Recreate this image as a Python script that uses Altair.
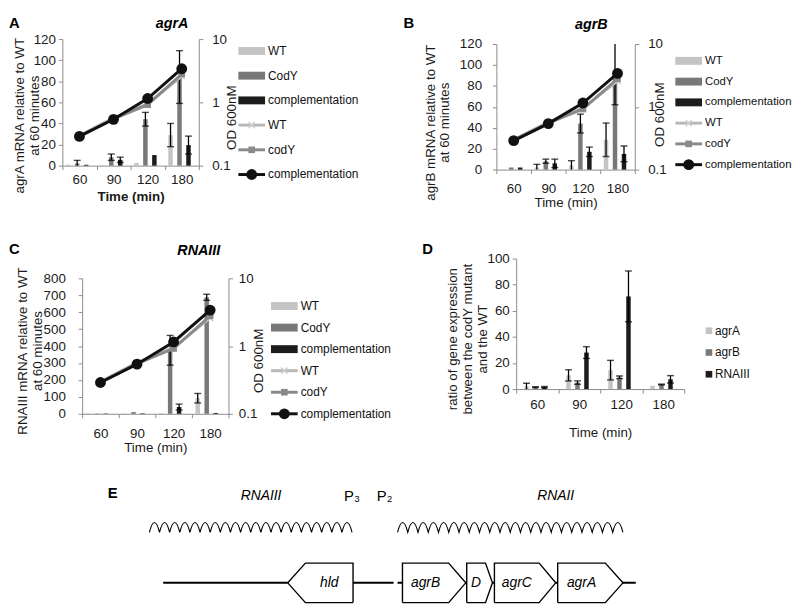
import altair as alt
import pandas as pd

FONT = "Liberation Sans"

# ---------------- data ----------------
times = ["60", "90", "120", "180"]
strains = ["WT", "CodY", "complementation"]
od_names = ["WT", "codY", "complementation"]

# Panel A: agrA mRNA relative to WT at 60 minutes
agrA_wt = [1.0, 0.5, 2.5, 29.0]
agrA_wt_err = [0.0, 0.0, 0.0, 11.0]
agrA_cody = [2.0, 8.0, 44.0, 84.0]
agrA_cody_err = [3.0, 3.0, 6.5, 25.0]
agrA_comp = [0.8, 5.5, 10.0, 19.5]
agrA_comp_err = [0.0, 2.5, 0.0, 8.5]

# Panel B: agrB mRNA relative to WT at 60 minutes
agrB_wt = [0.5, 2.0, 4.0, 28.5]
agrB_wt_err = [0.0, 3.0, 4.5, 16.0]
agrB_cody = [2.0, 8.0, 44.0, 92.0]
agrB_cody_err = [0.0, 2.0, 9.0, 30.0]
agrB_comp = [2.0, 6.0, 17.0, 15.0]
agrB_comp_err = [0.0, 4.0, 4.5, 7.5]

# Panel C: RNAIII mRNA relative to WT at 60 minutes
rna3_wt = [2.0, 2.0, 4.0, 92.0]
rna3_wt_err = [0.0, 0.0, 0.0, 28.0]
rna3_cody = [2.0, 10.0, 375.0, 688.0]
rna3_cody_err = [0.0, 0.0, 88.0, 18.0]
rna3_comp = [2.0, 3.0, 40.0, 5.0]
rna3_comp_err = [0.0, 0.0, 17.0, 0.0]

# OD600 growth (right axis, log)
od_wt = [0.30, 0.57, 0.95, 2.6]
od_cody = [0.29, 0.55, 0.92, 2.8]
od_comp = [0.29, 0.54, 1.15, 3.4]

# Panel D: ratio codY mutant / WT
genes_d = ["agrA", "agrB", "RNAIII"]
ratio_agrA = [2.0, 10.5, 14.5, 2.5]
ratio_agrA_err = [2.5, 4.3, 7.5, 0.0]
ratio_agrB = [1.5, 5.0, 9.0, 3.5]
ratio_agrB_err = [0.3, 1.3, 1.0, 0.3]
ratio_rna3 = [1.5, 28.0, 71.0, 7.5]
ratio_rna3_err = [0.5, 4.5, 19.5, 2.8]

# Panel E: agr locus (relative positions along the locus)
gene_names = ["hld", "agrB", "D", "agrC", "agrA"]
gene_start = [126, 238, 303, 331, 395]
gene_end = [192, 302, 329, 393, 461]
gene_strand = ["-", "+", "+", "+", "+"]
locus_start = 0
locus_end = 474
transcript_names = ["RNAIII", "RNAII"]
transcript_start = [-14, 233]
transcript_end = [191, 461]
transcript_label_pos = [99, 393]
promoter_names = ["P\u2083", "P\u2082"]
promoter_pos = [191, 224]

# ---------------- styles ----------------
BAR_COL = ["#c4c4c4", "#787878", "#1c1c1c"]
LINE_COL = ["#b8b8b8", "#8a8a8a", "#111111"]
AXIS_COL = "#8c8c8c"
XPATH = "M-1,-1L1,1M-1,1L1,-1"


def bars_df(names, vals, errs):
    rows = []
    for name, v, e in zip(names, vals, errs):
        for t, vi, ei in zip(times, v, e):
            rows.append({"time": t, "series": name, "value": vi,
                         "lo": vi - ei, "hi": vi + ei, "err": ei})
    return pd.DataFrame(rows)


def note(text, x, y, size, weight="bold", style="normal", align="left", baseline="top"):
    return alt.Chart(pd.DataFrame({"t": [text]})).mark_text(
        font=FONT, fontSize=size, fontWeight=weight, fontStyle=style,
        align=align, baseline=baseline, color="#000000"
    ).encode(x=alt.value(x), y=alt.value(y), text="t:N")


def frame(box):
    """Invisible corner points that fix the bounding box of a grid cell."""
    x0, y0, x1, y1 = box
    d = pd.DataFrame({"k": [0]})
    p0 = alt.Chart(d).mark_point(opacity=0, size=1).encode(x=alt.value(x0), y=alt.value(y0))
    p1 = alt.Chart(d).mark_point(opacity=0, size=1).encode(x=alt.value(x1), y=alt.value(y1))
    return [p0, p1]


def x_enc(axis, rng):
    return alt.X("time:N", sort=times,
                 scale=alt.Scale(paddingInner=0, paddingOuter=0, range=rng), axis=axis)


def bar_group(df, names, ymax, pad_outer, xaxis, yaxis, xr, yr):
    xo = alt.XOffset("series:N", sort=names,
                     scale=alt.Scale(paddingInner=0, paddingOuter=pad_outer))
    ysc = alt.Scale(domain=[0, ymax], nice=False, zero=True, range=yr)
    bars = alt.Chart(df).mark_bar().encode(
        x=x_enc(xaxis, xr), xOffset=xo,
        y=alt.Y("value:Q", scale=ysc, axis=yaxis),
        color=alt.Color("series:N", scale=alt.Scale(domain=names, range=BAR_COL), legend=None),
    )
    edf = df[df["err"] > 0].copy()
    edf["lo"] = edf["lo"].clip(lower=0)
    edf["hi"] = edf["hi"].clip(upper=ymax)
    rule = alt.Chart(edf).mark_rule(color="#000000", strokeWidth=1.3).encode(
        x=x_enc(xaxis, xr), xOffset=xo,
        y=alt.Y("lo:Q", scale=ysc, axis=yaxis), y2="hi:Q")
    lo_df = df[(df["err"] > 0) & (df["lo"] > 0)]
    hi_df = df[(df["err"] > 0) & (df["hi"] < ymax)]
    cap_lo = alt.Chart(lo_df).mark_tick(color="#000000", size=7, thickness=1.4).encode(
        x=x_enc(xaxis, xr), xOffset=xo, y=alt.Y("lo:Q", scale=ysc, axis=yaxis))
    cap_hi = alt.Chart(hi_df).mark_tick(color="#000000", size=7, thickness=1.4).encode(
        x=x_enc(xaxis, xr), xOffset=xo, y=alt.Y("hi:Q", scale=ysc, axis=yaxis))
    return alt.layer(bars, rule, cap_lo, cap_hi)


def od_group(xaxis, raxis, xr, yr):
    df = pd.DataFrame({
        "time": times * 3,
        "series": [n for n in od_names for _ in times],
        "od": od_wt + od_cody + od_comp,
    })
    ysc = alt.Scale(type="log", domain=[0.1, 10], nice=False, range=yr)
    yy = alt.Y("od:Q", scale=ysc, axis=raxis)
    layers = []
    for name, col in zip(od_names, LINE_COL):
        d = df[df["series"] == name]
        layers.append(alt.Chart(d).mark_line(color=col, strokeWidth=3).encode(x=x_enc(xaxis, xr), y=yy))
        if name == "WT":
            pt = alt.Chart(d).mark_point(shape=XPATH, filled=False, color="#d0d0d0",
                                         strokeWidth=1.6, size=40, opacity=1)
        elif name == "codY":
            pt = alt.Chart(d).mark_point(shape="square", filled=True, color=col, size=45, opacity=1)
        else:
            pt = alt.Chart(d).mark_point(shape="circle", filled=True, color=col, size=120, opacity=1)
        layers.append(pt.encode(x=x_enc(xaxis, xr), y=yy))
    return alt.layer(*layers)


def legend_group(labels, kinds, colors, H, x0, off, step, fsize=12, sym_w=27):
    df = pd.DataFrame({"i": list(range(len(labels))), "label": labels,
                       "kind": kinds, "col": colors})
    lo = -off / step
    hi = lo + H / step
    y = alt.Y("i:Q", scale=alt.Scale(domain=[lo, hi], reverse=True, nice=False, zero=False),
              axis=None)
    c = alt.Color("col:N", scale=None)
    base = alt.Chart(df)
    layers = [
        base.transform_filter("datum.kind == 'bar'").mark_rule(strokeWidth=8, strokeCap="butt")
        .encode(x=alt.value(x0), x2=alt.value(x0 + sym_w), y=y, color=c),
        base.transform_filter("datum.kind == 'x' || datum.kind == 'square' || datum.kind == 'circle'")
        .mark_rule(strokeWidth=3).encode(x=alt.value(x0), x2=alt.value(x0 + sym_w), y=y, color=c),
        base.transform_filter("datum.kind == 'x'").mark_point(shape=XPATH, filled=False, strokeWidth=1.6,
                                                               size=40, color="#d0d0d0", opacity=1)
        .encode(x=alt.value(x0 + sym_w / 2), y=y),
        base.transform_filter("datum.kind == 'square'").mark_point(shape="square", filled=True,
                                                                    size=45, opacity=1)
        .encode(x=alt.value(x0 + sym_w / 2), y=y, color=c),
        base.transform_filter("datum.kind == 'circle'").mark_point(shape="circle", filled=True,
                                                                    size=120, opacity=1)
        .encode(x=alt.value(x0 + sym_w / 2), y=y, color=c),
        base.transform_filter("datum.kind == 'sq'").mark_point(shape="square", filled=True,
                                                                size=45, opacity=1)
        .encode(x=alt.value(x0 + 4), y=y, color=c),
    ]
    tx = x0 + (10 if kinds[0] == "sq" else sym_w + 3)
    layers.append(base.mark_text(align="left", baseline="middle", font=FONT, fontSize=fsize,
                                 color="#111111")
                  .encode(x=alt.value(tx), y=y, text="label:N"))
    return alt.layer(*layers)


line_labels = ["WT", "CodY", "complementation", "WT", "codY", "complementation"]
line_kinds = ["bar", "bar", "bar", "x", "square", "circle"]
line_cols = BAR_COL + LINE_COL


def dual_panel(vals, errs, ymax, ystep, w, h, dx, dy, pad_outer, ltitle, ltx, lty, llp,
               xt_weight, xlp, xtp, rtx, rty, rlp, letter, letter_xy, title, title_xy,
               leg, box, leg_size=12):
    df = bars_df(strains, vals, errs)
    xr, yr = [dx, dx + w], [dy + h, dy]
    xaxis = alt.Axis(title="Time (min)", titleFontWeight=xt_weight, labelAngle=0,
                     tickBand="extent", tickSize=4, labelPadding=xlp, titlePadding=xtp)
    yaxis = alt.Axis(title=ltitle, values=list(range(0, ymax + 1, ystep)), tickSize=4,
                     labelPadding=llp, titleX=ltx, titleY=lty + dy, titleAngle=270,
                     titleBaseline="middle", titleAlign="center", titleLineHeight=15,
                     offset=-dx)
    raxis = alt.Axis(orient="right", title="OD 600nM", values=[0.1, 1, 10], format="~g",
                     tickSize=4, labelPadding=rlp, titleX=rtx, titleY=rty + dy, titleAngle=270,
                     titleBaseline="middle", titleAlign="center")
    notes = alt.layer(note(letter, letter_xy[0] + dx, letter_xy[1] + dy, 15),
                      note(title, title_xy[0] + dx, title_xy[1] + dy, 14.5, style="italic",
                           align="center", baseline="middle"),
                      *frame(box))
    x0, off, step = leg
    return alt.layer(bar_group(df, strains, ymax, pad_outer, xaxis, yaxis, xr, yr),
                     od_group(xaxis, raxis, xr, yr),
                     legend_group(line_labels, line_kinds, line_cols, h + dy, x0 + dx, off + dy, step,
                                  fsize=leg_size),
                     notes).resolve_scale(y="independent", color="independent").properties(
        width=w + dx, height=h + dy)


def panel_D(box):
    df = bars_df(genes_d, [ratio_agrA, ratio_agrB, ratio_rna3],
                 [ratio_agrA_err, ratio_agrB_err, ratio_rna3_err])
    w, h, dx, dy = 170, 132, 20, 0
    xr, yr = [dx, dx + w], [dy + h, dy]
    xaxis = alt.Axis(title="Time (min)", labelAngle=0, tickBand="extent", tickSize=4,
                     labelPadding=5, titlePadding=14)
    yaxis = alt.Axis(title=["ratio of gene expression", "between the codY mutant", "and the WT"],
                     values=list(range(0, 101, 20)), tickSize=4, labelPadding=3,
                     titleX=-64, titleY=81 + dy, titleAngle=270, titleBaseline="middle",
                     titleAlign="center", titleLineHeight=15, offset=-dx)
    return alt.layer(bar_group(df, genes_d, 100, 0.78, xaxis, yaxis, xr, yr),
                     legend_group(genes_d, ["sq", "sq", "sq"], BAR_COL, h + dy, 191 + dx, 73 + dy, 22),
                     alt.layer(note("D", -95 + dx, -17 + dy, 15), *frame(box))
                     ).resolve_scale(y="independent", color="independent").properties(
        width=w + dx, height=h + dy)


def wave_path(n_humps, height_frac):
    """Glyph of n arches spanning the unit box from x=-1 to x=1."""
    step = 2.0 / n_humps
    parts = ["M-1,0"]
    for k in range(n_humps):
        x0 = -1 + k * step
        parts.append(f"Q{x0 + step / 2:.4f},{-2 * height_frac:.4f} {x0 + step:.4f},0")
    return "".join(parts)


SPLIT = 233  # locus position where the map is divided between the two grid columns


def panel_E_part(side, x_shift, W, box):
    H = 134
    xs = alt.Scale(domain=[0, 100], range=[x_shift, x_shift + 100], nice=False, zero=False)
    ys = alt.Scale(domain=[-1.05, 5.65], nice=False, zero=False)
    X = lambda f: alt.X(f, scale=xs, axis=None)
    Y = lambda f: alt.Y(f, scale=ys, axis=None)
    inside = (lambda p: p < SPLIT) if side == "left" else (lambda p: p >= SPLIT)
    seg = (locus_start, SPLIT) if side == "left" else (SPLIT, locus_end)
    back = pd.DataFrame({"s": [seg[0]], "e": [seg[1]], "y": [0]})
    poly, labs, boxes = [], [], []
    for g, s, e, st in zip(gene_names, gene_start, gene_end, gene_strand):
        if not inside(s):
            continue
        hlen = min(18.0, 0.27 * (e - s))
        if st == "+":
            pts = [(s, -1), (e - hlen, -1), (e, 0), (e - hlen, 1), (s, 1), (s, -1)]
            mid = (s + e - hlen) / 2
        else:
            pts = [(e, -1), (s + hlen, -1), (s, 0), (s + hlen, 1), (e, 1), (e, -1)]
            mid = (s + hlen + e) / 2
        for k, (px, py) in enumerate(pts):
            poly.append({"gene": g, "k": k, "px": px, "py": py})
        labs.append({"gene": g, "mid": mid, "y": 0})
        boxes.append({"gene": g, "s": s, "e": e, "y0": -1, "y1": 1})
    layers = [alt.Chart(back).mark_rule(color="#000000", strokeWidth=2).encode(
        x=X("s:Q"), x2="e:Q", y=Y("y:Q"))]
    if poly:
        layers += [
            alt.Chart(pd.DataFrame(boxes)).mark_rect(color="#ffffff").encode(
                x=X("s:Q"), x2="e:Q", y=Y("y0:Q"), y2="y1:Q"),
            alt.Chart(pd.DataFrame(poly)).mark_line(color="#000000", strokeWidth=1.4,
                                                    strokeJoin="miter").encode(
                x=X("px:Q"), y=Y("py:Q"), order="k:Q", detail="gene:N"),
            alt.Chart(pd.DataFrame(labs)).mark_text(font=FONT, fontSize=14, fontStyle="italic",
                                                    color="#000000").encode(
                x=X("mid:Q"), y=Y("y:Q"), text="gene:N"),
        ]
    tl = [(n, p) for n, p, a in zip(transcript_names, transcript_label_pos, transcript_start) if inside(a)]
    if tl:
        layers.append(alt.Chart(pd.DataFrame({"name": [t[0] for t in tl], "pos": [t[1] for t in tl],
                                              "y": [4.4] * len(tl)}))
                      .mark_text(font=FONT, fontSize=14, fontStyle="italic", color="#000000")
                      .encode(x=X("pos:Q"), y=Y("y:Q"), text="name:N"))
    if side == "left":
        layers.append(alt.Chart(pd.DataFrame({"name": promoter_names, "pos": promoter_pos,
                                              "y": [4.4] * len(promoter_names)}))
                      .mark_text(font=FONT, fontSize=15, color="#000000")
                      .encode(x=X("pos:Q"), y=Y("y:Q"), text="name:N"))
        layers.append(note("E", 46, 15, 15))
    for a, b in zip(transcript_start, transcript_end):
        if not inside(a):
            continue
        span = b - a
        n = round(span / 10.25)
        d = pd.DataFrame({"mid": [(a + b) / 2], "y": [2.55]})
        layers.append(alt.Chart(d).mark_point(
            shape=wave_path(n, 20.0 / span), size=span * span, filled=False,
            color="#000000", strokeWidth=1.1, opacity=1).encode(x=X("mid:Q"), y=Y("y:Q")))
    layers += frame(box)
    return alt.layer(*layers).properties(width=W, height=H)


# grid: column 0 origin at x=54, column 1 origin at x=489 (chart pixels)
panelA = dual_panel([agrA_wt, agrA_cody, agrA_comp], [agrA_wt_err, agrA_cody_err, agrA_comp_err],
                    120, 20, 138, 128, 0, 0, 0.8,
                    ["agrA mRNA relative to WT", "at 60 minutes"], -43, 77, 3,
                    "bold", 3, 4, 33, 79, 9,
                    "A", (-54, -23), "agrA", (111, -15),
                    (178, 12, 25), (-54, -27, 335, 188))
panelB = dual_panel([agrB_wt, agrB_cody, agrB_comp], [agrB_wt_err, agrB_cody_err, agrB_comp_err],
                    120, 20, 140, 127, 0, 5, 0.6,
                    ["agrB  mRNA relative to WT", "at 60 minutes"], -67, 79, 11,
                    "normal", 8, 1, 25, 71, 9,
                    "B", (-94, -28), "agrB", (96, -19),
                    (181, 17, 21), (-100, -27, 298, 188), leg_size=11.5)
panelC = dual_panel([rna3_wt, rna3_cody, rna3_comp], [rna3_wt_err, rna3_cody_err, rna3_comp_err],
                    800, 100, 148, 137, 20, 20, 0.9,
                    ["RNAIII mRNA relative to WT", "at 60 minutes"], -60, 73, 13,
                    "normal", 9, 1, 30, 83, 6,
                    "C", (-74, -37), "RNAIII", (118, -28),
                    (191, 28, 21.8), (-54, -32, 335, 213))
panelD = panel_D((-100, -32, 298, 213))
panelEL = panel_E_part("left", 102, 335, (-54, 0, 335, 134))
panelER = panel_E_part("right", -333, 141, (-100, 0, 298, 134))

chart = alt.concat(panelA, panelB, panelC, panelD, panelEL, panelER, columns=2, spacing=0,
                   align="each", bounds="full").properties(padding=0).configure_axis(
    labelFont=FONT, titleFont=FONT, labelFontSize=13.5, titleFontSize=13.5,
    labelColor="#1a1a1a", titleColor="#1a1a1a", domainColor=AXIS_COL, tickColor=AXIS_COL,
    grid=False, titleFontWeight="normal"
).configure_view(stroke=None)

chart.save("out.html", embed_options={"renderer": "svg", "actions": False})
